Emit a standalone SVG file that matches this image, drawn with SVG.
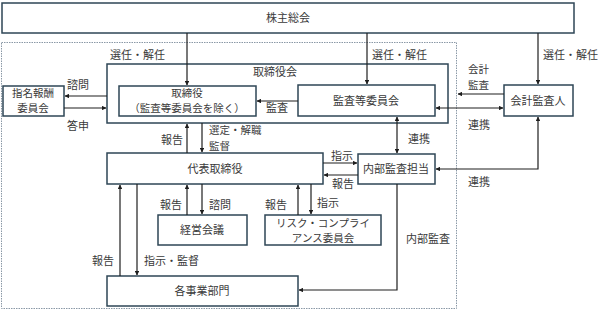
<svg xmlns="http://www.w3.org/2000/svg" width="599" height="310" viewBox="0 0 599 310">
<style>
.box{fill:#fff;stroke:#2e4656;stroke-width:1.5}
.t{font-family:"Noto Sans CJK JP","Noto Sans CJK SC",sans-serif;font-size:11px;fill:#3a3a3a}
.s{font-size:10.5px}
.m{text-anchor:middle}
.c{fill:none;stroke:#1e1e1e;stroke-width:1.2}
</style>
<defs>
<marker id="a" viewBox="0 0 6 6" refX="5.5" refY="3" markerWidth="4" markerHeight="4" orient="auto-start-reverse"><path d="M0,0L6,3L0,6Z" fill="#1e1e1e"/></marker>
</defs>
<rect x="1.5" y="42.5" width="455" height="266" fill="none" stroke="#8a98a6" stroke-width="1" stroke-dasharray="1.5,1"/>
<g id="kabunushi"><rect class="box" x="2" y="3" width="572" height="30"/><text class="t m" x="288" y="22">株主総会</text></g>
<g id="torishimariyakukai"><rect class="box" x="107" y="64" width="341" height="59"/><text class="t m" x="275" y="76">取締役会</text></g>
<g id="torishimariyaku"><rect class="box" x="119" y="86" width="137" height="30"/><text class="t s m" x="187" y="97">取締役</text><text class="t s m" x="187" y="112">（監査等委員会を除く）</text></g>
<g id="kansatou"><rect class="box" x="298" y="85" width="137" height="31"/><text class="t m" x="366" y="105">監査等委員会</text></g>
<g id="shimei"><rect class="box" x="3" y="86" width="61" height="30"/><text class="t s m" x="33" y="97">指名報酬</text><text class="t s m" x="33" y="112">委員会</text></g>
<g id="kaikei"><rect class="box" x="504" y="85" width="69" height="31"/><text class="t m" x="538" y="105">会計監査人</text></g>
<g id="daihyo"><rect class="box" x="107" y="153" width="216" height="31"/><text class="t m" x="215" y="173">代表取締役</text></g>
<g id="naibu"><rect class="box" x="358" y="154" width="77" height="30"/><text class="t m" x="396" y="173">内部監査担当</text></g>
<g id="keiei"><rect class="box" x="158" y="215" width="89" height="30"/><text class="t m" x="202" y="234">経営会議</text></g>
<g id="risk"><rect class="box" x="265" y="215" width="116" height="30"/><text class="t s m" x="323" y="227">リスク・コンプライ</text><text class="t s m" x="323" y="242">アンス委員会</text></g>
<g id="jigyo"><rect class="box" x="107" y="276" width="191" height="30"/><text class="t m" x="202" y="295">各事業部門</text></g>
<g id="connectors">
<path class="c" d="M187,33V85" marker-end="url(#a)"/>
<path class="c" d="M367,33V84" marker-end="url(#a)"/>
<path class="c" d="M538,33V84" marker-end="url(#a)"/>
<path class="c" d="M107,96H65" marker-end="url(#a)"/>
<path class="c" d="M64,108H106" marker-end="url(#a)"/>
<path class="c" d="M298,101H257" marker-end="url(#a)"/>
<path class="c" d="M504,94H458" marker-end="url(#a)"/>
<path class="c" d="M436,108H503" marker-start="url(#a)" marker-end="url(#a)"/>
<path class="c" d="M187,153V124" marker-end="url(#a)"/>
<path class="c" d="M202,123V152" marker-end="url(#a)"/>
<path class="c" d="M397,117V153" marker-start="url(#a)" marker-end="url(#a)"/>
<path class="c" d="M323,163H357" marker-end="url(#a)"/>
<path class="c" d="M358,175H324" marker-end="url(#a)"/>
<path class="c" d="M538,117V169H436" marker-start="url(#a)" marker-end="url(#a)"/>
<path class="c" d="M187,215V185" marker-end="url(#a)"/>
<path class="c" d="M202,184V214" marker-end="url(#a)"/>
<path class="c" d="M298,215V185" marker-end="url(#a)"/>
<path class="c" d="M311,184V214" marker-end="url(#a)"/>
<path class="c" d="M120,276V185" marker-end="url(#a)"/>
<path class="c" d="M137,184V275" marker-end="url(#a)"/>
<path class="c" d="M397,184V290H299" marker-end="url(#a)"/>
</g>
<g id="labels">
<text class="t" x="110" y="59">選任・解任</text>
<text class="t" x="372" y="59">選任・解任</text>
<text class="t" x="543" y="59">選任・解任</text>
<text class="t" x="67" y="89">諮問</text>
<text class="t" x="67" y="130">答申</text>
<text class="t" x="266" y="112">監査</text>
<text class="t s" x="468" y="73">会計</text>
<text class="t s" x="468" y="89">監査</text>
<text class="t" x="468" y="129">連携</text>
<text class="t" x="161" y="144">報告</text>
<text class="t s" x="209" y="134">選定・解職</text>
<text class="t s" x="209" y="150">監督</text>
<text class="t" x="408" y="143">連携</text>
<text class="t" x="331" y="160">指示</text>
<text class="t" x="332" y="188">報告</text>
<text class="t" x="468" y="186">連携</text>
<text class="t" x="160" y="209">報告</text>
<text class="t" x="209" y="209">諮問</text>
<text class="t" x="265" y="209">報告</text>
<text class="t" x="317" y="207">指示</text>
<text class="t" x="92" y="265">報告</text>
<text class="t" x="144" y="265">指示・監督</text>
<text class="t" x="406" y="243">内部監査</text>
</g>
</svg>
